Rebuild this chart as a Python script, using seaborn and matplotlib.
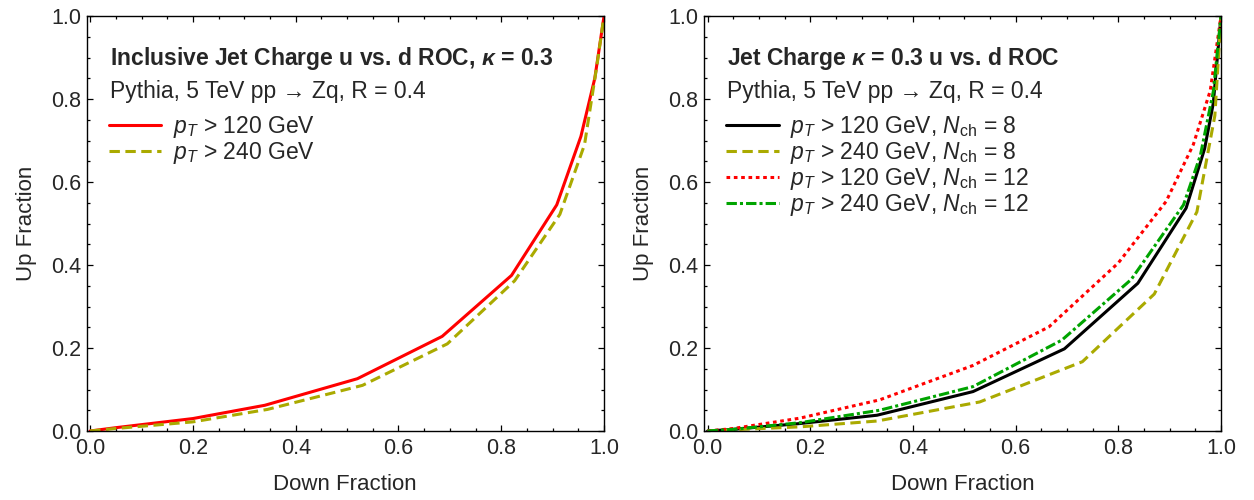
import matplotlib
matplotlib.use("Agg")
import matplotlib.pyplot as plt
from matplotlib.ticker import MultipleLocator, FormatStrFormatter
import seaborn as sns

# ---- left panel: inclusive jet charge ROC ----
down_pt120 = [0, 0.05, 0.20, 0.34, 0.52, 0.685, 0.82, 0.908, 0.955, 0.982, 1.0]
up_pt120 = [0, 0.008, 0.030, 0.062, 0.126, 0.228, 0.375, 0.545, 0.710, 0.850, 1.0]
down_pt240 = [0, 0.05, 0.20, 0.345, 0.53, 0.695, 0.826, 0.914, 0.962, 0.986, 1.0]
up_pt240 = [0, 0.006, 0.022, 0.052, 0.110, 0.210, 0.362, 0.522, 0.690, 0.880, 1.0]

# ---- right panel: fixed Nch ROC ----
down_120_n8 = [0, 0.05, 0.18, 0.33, 0.517, 0.695, 0.838, 0.932, 0.968, 0.985, 1.0]
up_120_n8 = [0, 0.004, 0.018, 0.038, 0.095, 0.198, 0.356, 0.537, 0.680, 0.790, 1.0]
down_240_n8 = [0, 0.05, 0.18, 0.33, 0.53, 0.73, 0.87, 0.953, 0.988, 1.0]
up_240_n8 = [0, 0.003, 0.010, 0.024, 0.070, 0.167, 0.330, 0.528, 0.760, 1.0]
down_120_n12 = [0, 0.05, 0.18, 0.335, 0.517, 0.665, 0.80, 0.893, 0.946, 0.979, 1.0]
up_120_n12 = [0, 0.006, 0.031, 0.075, 0.158, 0.251, 0.405, 0.553, 0.690, 0.820, 1.0]
down_240_n12 = [0, 0.05, 0.18, 0.335, 0.517, 0.69, 0.825, 0.927, 0.960, 0.985, 1.0]
up_240_n12 = [0, 0.004, 0.020, 0.050, 0.107, 0.219, 0.365, 0.545, 0.665, 0.818, 1.0]

left_labels = [r"$p_T$ > 120 GeV", r"$p_T$ > 240 GeV"]
right_labels = [r"$p_T$ > 120 GeV, $N_{\rm ch}$ = 8", r"$p_T$ > 240 GeV, $N_{\rm ch}$ = 8",
                r"$p_T$ > 120 GeV, $N_{\rm ch}$ = 12", r"$p_T$ > 240 GeV, $N_{\rm ch}$ = 12"]
titles = [r"Inclusive Jet Charge u vs. d ROC, $\mathbfit{\kappa}$ = 0.3",
          r"Jet Charge $\mathbfit{\kappa}$ = 0.3 u vs. d ROC"]
subtitle = "Pythia, 5 TeV pp → Zq, R = 0.4"

RED = "#ff0000"
OLIVE = "#aaaa00"
GREEN = "#00a400"
solid = "-"
dashed = (0, (3.4, 1.8))
dotted = (0, (1.2, 1.2))
dashdot = (0, (3.4, 1.0, 1.0, 1.0))

sns.set_style("ticks")
plt.rcParams["font.family"] = ["Liberation Sans", "DejaVu Sans"]
plt.rcParams["mathtext.fontset"] = "custom"
plt.rcParams["mathtext.rm"] = "Liberation Sans"
plt.rcParams["mathtext.it"] = "Liberation Sans:italic"
plt.rcParams["mathtext.bf"] = "Liberation Sans:bold"
plt.rcParams["mathtext.bfit"] = "Liberation Sans:italic:bold"

fig = plt.figure(figsize=(12.54, 5.0), dpi=100)
ax1 = fig.add_axes([0.069, 0.138, 0.4127, 0.83])
ax2 = fig.add_axes([0.5614, 0.138, 0.4123, 0.83])

LW = 2.2
sns.lineplot(x=down_pt120, y=up_pt120, ax=ax1, color=RED, lw=LW, linestyle=solid,
             estimator=None, sort=False, label=left_labels[0])
sns.lineplot(x=down_pt240, y=up_pt240, ax=ax1, color=OLIVE, lw=LW, linestyle=dashed,
             estimator=None, sort=False, label=left_labels[1])

sns.lineplot(x=down_120_n8, y=up_120_n8, ax=ax2, color="black", lw=LW, linestyle=solid,
             estimator=None, sort=False, label=right_labels[0])
sns.lineplot(x=down_240_n8, y=up_240_n8, ax=ax2, color=OLIVE, lw=LW, linestyle=dashed,
             estimator=None, sort=False, label=right_labels[1])
sns.lineplot(x=down_120_n12, y=up_120_n12, ax=ax2, color=RED, lw=LW, linestyle=dotted,
             estimator=None, sort=False, label=right_labels[2])
sns.lineplot(x=down_240_n12, y=up_240_n12, ax=ax2, color=GREEN, lw=LW, linestyle=dashdot,
             estimator=None, sort=False, label=right_labels[3])

for ax, title in zip([ax1, ax2], titles):
    ax.set_xlim(-0.007, 1.0)
    ax.set_ylim(0, 1.0)
    ax.xaxis.set_major_locator(MultipleLocator(0.2))
    ax.yaxis.set_major_locator(MultipleLocator(0.2))
    ax.xaxis.set_minor_locator(MultipleLocator(0.05))
    ax.yaxis.set_minor_locator(MultipleLocator(0.05))
    ax.xaxis.set_major_formatter(FormatStrFormatter("%.1f"))
    ax.yaxis.set_major_formatter(FormatStrFormatter("%.1f"))
    ax.tick_params(which="both", direction="in", top=True, right=True, width=0.9, color="black")
    ax.tick_params(which="major", length=4.5, labelsize=15.5)
    ax.tick_params(which="minor", length=2.5)
    ax.tick_params(axis="x", which="major", pad=5)
    ax.tick_params(axis="y", which="major", pad=4)
    for sp in ax.spines.values():
        sp.set_linewidth(1.0)
        sp.set_color("black")
    ax.set_xlabel("Down Fraction", fontsize=16, labelpad=11)
    ax.set_ylabel("Up Fraction", fontsize=16, labelpad=10)
    ax.text(0.045, 0.898, title, transform=ax.transAxes, fontsize=16.5, fontweight="bold",
            va="center", ha="left")
    ax.text(0.045, 0.818, subtitle, transform=ax.transAxes,
            fontsize=16.5, va="center", ha="left")
    ax.legend(loc="upper left", bbox_to_anchor=(0.043, 0.763), frameon=False, fontsize=16.5,
              handlelength=2.3, handletextpad=0.5, labelspacing=0.0, borderpad=0,
              borderaxespad=0)

fig.savefig("out.png", dpi=100)
